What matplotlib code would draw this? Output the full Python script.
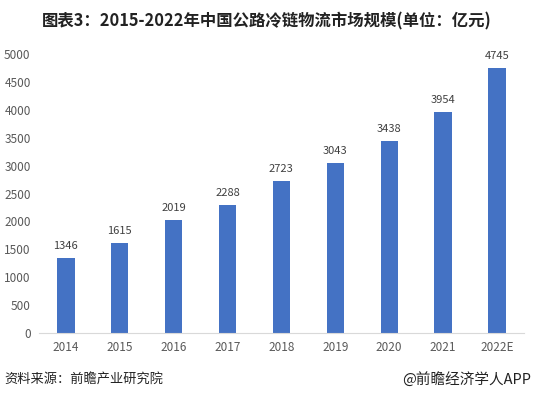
import matplotlib
matplotlib.use("Agg")
import matplotlib.pyplot as plt

plt.rcParams["font.family"] = ["Noto Sans CJK SC", "DejaVu Sans"]

years = ["2014", "2015", "2016", "2017", "2018", "2019", "2020", "2021", "2022E"]
market_size = [1346, 1615, 2019, 2288, 2723, 3043, 3438, 3954, 4745]
y_ticks = list(range(0, 5001, 500))

fig = plt.figure(figsize=(5.34, 3.97), dpi=100)
ax = fig.add_axes([0.073, 0.161, 0.908, 0.703])

x = range(len(years))
ax.bar(x, market_size, width=0.32, color="#4472C4", zorder=2)
for xi, v in zip(x, market_size):
    ax.annotate(str(v), (xi, v), xytext=(0, 5), textcoords="offset points",
                ha="center", va="bottom", fontsize=8, color="#404040")

ax.set_xlim(-0.5, len(years) - 0.5)
ax.set_ylim(0, 5000)
ax.set_yticks(y_ticks)
ax.set_xticks(list(x))
ax.set_xticklabels(years)
ax.tick_params(axis="both", length=0, labelsize=8.5, labelcolor="#595959")
ax.tick_params(axis="y", pad=6)
ax.tick_params(axis="x", pad=6)
for side in ["top", "right", "left"]:
    ax.spines[side].set_visible(False)
ax.spines["bottom"].set_color("#D9D9D9")

fig.text(0.5, 0.945, "图表3：2015-2022年中国公路冷链物流市场规模(单位：亿元)",
         ha="center", va="center", fontsize=11.8, fontweight="bold", color="#222222")
fig.text(0.008, 0.045, "资料来源：前瞻产业研究院", ha="left", va="center",
         fontsize=9.5, color="#222222")
fig.text(0.995, 0.045, "@前瞻经济学人APP", ha="right", va="center",
         fontsize=10.5, color="#222222")

fig.savefig("out.png", dpi=100)
